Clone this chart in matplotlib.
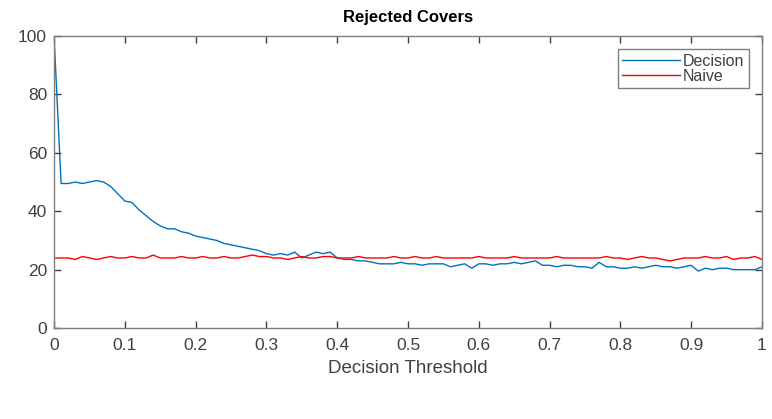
import numpy as np
import matplotlib.pyplot as plt

plt.rcParams['font.family'] = ['Liberation Sans', 'DejaVu Sans']

# Decision threshold steps 0..1
thresholds = np.linspace(0, 1, 101)

decision = [100, 49.5, 49.5, 50, 49.5, 50, 50.5, 50, 48.5, 46, 43.5,
            43, 40.5, 38.5, 36.5, 35, 34, 34, 33, 32.5, 31.5,
            31, 30.5, 30, 29, 28.5, 28, 27.5, 27, 26.5, 25.5,
            25, 25.5, 25, 26, 24, 25, 26, 25.5, 26, 24,
            23.5, 23.5, 23, 23, 22.5, 22, 22, 22, 22.5, 22,
            22, 21.5, 22, 22, 22, 21, 21.5, 22, 20.5, 22,
            22, 21.5, 22, 22, 22.5, 22, 22.5, 23, 21.5, 21.5,
            21, 21.5, 21.5, 21, 21, 20.5, 22.5, 21, 21, 20.5,
            20.5, 21, 20.5, 21, 21.5, 21, 21, 20.5, 21, 21.5,
            19.5, 20.5, 20, 20.5, 20.5, 20, 20, 20, 20, 21]

naive = [24, 24, 24, 23.5, 24.5, 24, 23.5, 24, 24.5, 24, 24,
         24.5, 24, 24, 25, 24, 24, 24, 24.5, 24, 24,
         24.5, 24, 24, 24.5, 24, 24, 24.5, 25, 24.5, 24.5,
         24, 24, 23.5, 24, 24.5, 24, 24, 24.5, 24.5, 24,
         24, 24, 24.5, 24, 24, 24, 24, 24.5, 24, 24,
         24.5, 24, 24, 24.5, 24, 24, 24, 24, 24, 24.5,
         24, 24, 24, 24, 24.5, 24, 24, 24, 24, 24,
         24.5, 24, 24, 24, 24, 24, 24, 24.5, 24, 24,
         23.5, 24, 24.5, 24, 24, 23.5, 23, 23.5, 24, 24,
         24, 24.5, 24, 24, 24.5, 23.5, 24, 24, 24.5, 23.5]

fig = plt.figure(figsize=(7.72, 4.19), dpi=100)
ax = fig.add_axes([0.070, 0.217, 0.917, 0.697])

ax.plot(thresholds, decision, color='#0072BD', lw=1.0, label='Decision')
ax.plot(thresholds, naive, color='#FF0000', lw=1.0, label='Naive')

ax.set_xlim(0, 1)
ax.set_ylim(0, 100)
ax.set_xticks(np.arange(0, 1.01, 0.1))
ax.set_xticklabels(['0', '0.1', '0.2', '0.3', '0.4', '0.5', '0.6', '0.7', '0.8', '0.9', '1'])
ax.set_yticks([0, 20, 40, 60, 80, 100])

ax.tick_params(direction='in', top=True, right=True, length=5, width=1,
               colors='#404040', labelsize=12.5, labelcolor='#404040')
ax.tick_params(axis='x', pad=7)
ax.tick_params(axis='y', pad=5)
for s in ax.spines.values():
    s.set_color('#7f7f7f')
    s.set_linewidth(1)

ax.set_title('Rejected Covers', fontsize=12, fontweight='bold', pad=10)
ax.set_xlabel('Decision Threshold', fontsize=13.5, color='#404040', labelpad=5)

leg = ax.legend(loc='upper right', fontsize=11.5, fancybox=False, framealpha=1,
                handlelength=3.6, borderpad=0.3, labelspacing=0.0, handletextpad=0.2,
                borderaxespad=0.8)
leg.get_frame().set_edgecolor('#7f7f7f')
leg.get_frame().set_linewidth(1)
for t in leg.get_texts():
    t.set_color('#404040')

fig.savefig('out.png', dpi=100)
